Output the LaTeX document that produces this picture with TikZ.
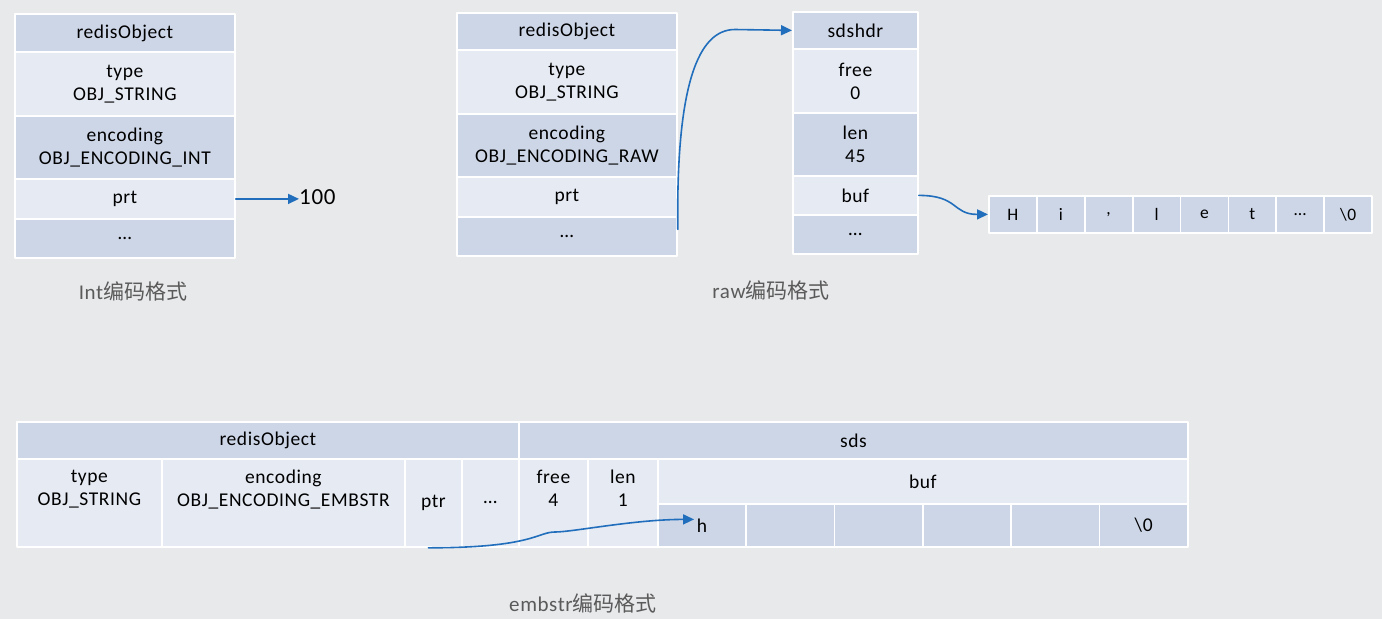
\documentclass[tikz,border=0pt]{standalone}
\usepackage{fontspec}
\setmainfont[LetterSpace=3]{Carlito}
\newfontfamily\cjk{Noto Sans CJK SC}
\usetikzlibrary{arrows.meta}
\definecolor{celldark}{RGB}{205,214,231}
\definecolor{celllight}{RGB}{229,234,243}
\definecolor{bggrey}{RGB}{232,233,235}
\definecolor{ptrblue}{RGB}{33,110,188}
\definecolor{capgrey}{RGB}{90,90,90}

\begin{document}
\begin{tikzpicture}[x = 1pt, y = -1pt, line cap = round, line join = round,
        cell/.style={draw = white, line width = 1.8pt, inner sep = 0pt, anchor = north west, align = center, font = \fontsize{19.5}{23}\selectfont},
        small/.style={font = \fontsize{18.5}{23}\selectfont},
        ptr/.style={ptrblue, line width = 1.6pt, -{Triangle[length = 11pt, width = 10pt]}},
        caption/.style={text = capgrey, font = \fontsize{21}{25}\selectfont}]
        %
        \def\BoxWidth{220}
        \def\SdsWidth{125}
        \def\ChrWidth{47.9}
        \def\ByteWidth{88.33}

        \fill [bggrey] (0, 0) rectangle (1382, 619);
        \useasboundingbox (0, 0) rectangle (1382, 619);

        % int
        \begin{scope}[local bounding box = int]
            \foreach \name/\top/\h/\st/\txt in {head/13/38/dark/redisObject, type/51/64/light/{type\\OBJ\_STRING}, enc/115/63/dark/{encoding\\OBJ\_ENCODING\_INT}, prt/178/40/light/prt, dots/218/39/dark/\dots}
            {
                \node [cell, fill = cell\st, minimum width = \BoxWidth pt, minimum height = \h pt] (int-\name) at (14, \top) {\txt};
            }
            \node [font = \fontsize{23}{27}\selectfont, anchor = west, inner sep = 0pt] (int-val) at (299, 197) {100};
            \draw [ptr] (int-prt.east) -- (int-prt.east -| int-val.west);
            \node [caption] (int-cap) at (133, 291) {Int{\cjk 编码格式}};
        \end{scope}

        % raw
        \begin{scope}[local bounding box = raw]
            \foreach \name/\top/\h/\st/\txt in {head/12/37/dark/redisObject, type/49/64/light/{type\\OBJ\_STRING}, enc/113/63/dark/{encoding\\OBJ\_ENCODING\_RAW}, prt/176/40/light/prt, dots/216/39/dark/\dots}
            {
                \node [cell, fill = cell\st, minimum width = \BoxWidth pt, minimum height = \h pt] (raw-\name) at (456, \top) {\txt};
            }
            \foreach \name/\top/\h/\st/\txt in {head/11/37/dark/sdshdr, free/48/64/light/{free\\0}, len/112/63/dark/{len\\45}, buf/175/39/light/buf, dots/214/39/dark/\dots}
            {
                \node [cell, fill = cell\st, minimum width = \SdsWidth pt, minimum height = \h pt] (sds-\name) at (792, \top) {\txt};
            }
            \foreach[count = \i] \c in {H, i, {,}, l, e, t, \dots, \textbackslash 0}
            {
                \node [cell, fill = celldark, minimum width = \ChrWidth pt, minimum height = 37pt, font = \fontsize{17.5}{20}\selectfont] (chr-\i) at ({988 + (\i - 1) * \ChrWidth}, 195) {\c};
            }
            \draw [ptr] ([yshift = 7pt]raw-dots.east) .. controls (676, 85) and (698, 29.5) .. (735, 29.5) -- (sds-head.west);
            \draw [ptr] (sds-buf.east) .. controls +(40, 0) and +(-36, 0) .. (chr-1.west);
            \node [caption] (raw-cap) at (771, 290) {raw{\cjk 编码格式}};
        \end{scope}

        % embstr
        \begin{scope}[local bounding box = embstr, every node/.append style = {small}]
            \node [cell, fill = celldark, minimum width = 502pt, minimum height = 37pt] (em-head) at (16, 421) {redisObject};
            \node [cell, fill = celldark, minimum width = 669pt, minimum height = 37pt] (em-sds) at (518, 421) {sds};
            \foreach \name/\x/\w/\txt in {type/16/145/{type\\OBJ\_STRING\\\strut}, enc/161/243/{encoding\\OBJ\_ENCODING\_EMBSTR\\\strut}, ptr/404/57/ptr, dots/461/57/\dots, free/518/69/{free\\4\\\strut}, len/587/70/{len\\1\\\strut}}
            {
                \node [cell, fill = celllight, minimum width = \w pt, minimum height = 88pt] (em-\name) at (\x, 458) {\txt};
            }
            \node [cell, fill = celllight, minimum width = 530pt, minimum height = 45pt] (em-buf) at (657, 458) {buf};
            \foreach[count = \i] \c in {h, {}, {}, {}, {}, \textbackslash 0}
            {
                \node [cell, fill = celldark, minimum width = \ByteWidth pt, minimum height = 43pt] (byte-\i) at ({657 + (\i - 1) * \ByteWidth}, 503) {\c};
            }
            \draw [ptr] ([xshift = -5pt]em-ptr.south) .. controls +(105, 0) and +(-18, 0) .. (555, 532) .. controls +(18, 0) and +(-60, 0) .. ([shift = {(-8pt, 6pt)}]byte-1.center);
            \node [caption] (em-cap) at (583, 603) {embstr{\cjk 编码格式}};
        \end{scope}
    \end{tikzpicture}
\end{document}
